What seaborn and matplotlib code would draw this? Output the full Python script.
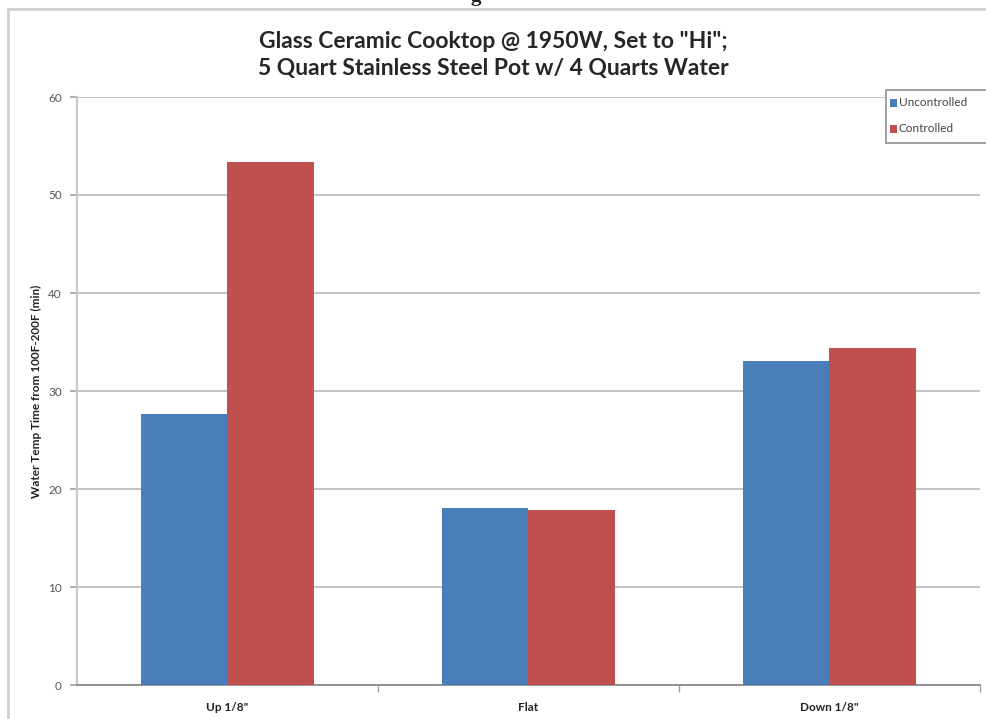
import matplotlib
matplotlib.use("Agg")
import matplotlib.pyplot as plt
from matplotlib.patches import Rectangle
import seaborn as sns
import pandas as pd

categories = ['Up 1/8"', "Flat", 'Down 1/8"']
uncontrolled = [27.7, 18.1, 33.1]
controlled = [53.4, 17.9, 34.4]
series_names = ["Uncontrolled", "Controlled"]
y_ticks = [0, 10, 20, 30, 40, 50, 60]

df = pd.DataFrame({
    "category": categories * 2,
    "series": [series_names[0]] * 3 + [series_names[1]] * 3,
    "minutes": uncontrolled + controlled,
})

sns.set_style("white")
plt.rcParams["font.family"] = ["Lato", "DejaVu Sans"]

W, H = 987, 719
fig = plt.figure(figsize=(W / 100, H / 100), dpi=100)
ax = fig.add_axes([77 / W, 1 - 685 / H, (980 - 77) / W, (685 - 97) / H])

palette = {"Uncontrolled": "#4A7EBB", "Controlled": "#C0504D"}
sns.barplot(data=df, x="category", y="minutes", hue="series",
            order=categories, hue_order=series_names, palette=palette,
            width=0.575, saturation=1, errorbar=None, ax=ax, legend=False,
            linewidth=0, zorder=3)

ax.set_xlim(-0.5, 2.5)
ax.set_ylim(0, 60)
ax.set_yticks(y_ticks)
ax.yaxis.grid(True, color="#bdbdbd", linewidth=1.3, zorder=0)
ax.set_axisbelow(True)

for s in ["top", "right"]:
    ax.spines[s].set_visible(False)
ax.spines["left"].set_color("#c8c8c8")
ax.spines["left"].set_linewidth(1.6)
ax.spines["bottom"].set_color("#8a8a8a")
ax.spines["bottom"].set_linewidth(1.3)

ax.tick_params(axis="y", left=True, length=5, width=1.2, color="#a0a0a0",
               labelsize=8.5, labelcolor="#555555", pad=6)
ax.tick_params(axis="x", bottom=False, labelsize=8.5, labelcolor="#222222", pad=9)
for lbl in ax.get_xticklabels():
    lbl.set_fontweight("bold")
ax.set_xticks([0.5, 1.5, 2.5], minor=True)
ax.tick_params(axis="x", which="minor", bottom=True, length=5, width=1,
               color="#a0a0a0")

ax.set_xlabel("")
ax.set_ylabel("Water Temp Time from 100F-200F (min)", fontsize=8.5,
              fontweight="bold", color="#222222", labelpad=4)

fig.text(493 / W, 1 - 41 / H, 'Glass Ceramic Cooktop @ 1950W, Set to "Hi";',
         ha="center", va="center", fontsize=16.5, fontweight="bold",
         color="#262626")
fig.text(493 / W, 1 - 68 / H, "5 Quart Stainless Steel Pot w/ 4 Quarts Water",
         ha="center", va="center", fontsize=16.5, fontweight="bold",
         color="#262626")

# chart frame
fig.patches.append(Rectangle((8 / W, -0.2), 1.2, 1 - 9 / H + 0.2,
                             transform=fig.transFigure, fill=False,
                             edgecolor="#d0d0d0", linewidth=2, zorder=0))

# heading above the frame, mostly cut off
fig.text(476 / W, 1 - 1 / H, "g", ha="center", va="baseline", fontsize=15,
         fontweight="bold", family="Liberation Serif", color="#222222")

# legend box
lx0, ly0, lx1, ly1 = 886, 90, 990, 143
fig.patches.append(Rectangle((lx0 / W, 1 - ly1 / H), (lx1 - lx0) / W,
                             (ly1 - ly0) / H, transform=fig.transFigure,
                             facecolor="white", edgecolor="#9a9a9a",
                             linewidth=1.3, zorder=5))
for name, yy in zip(series_names, [103, 129]):
    fig.patches.append(Rectangle((890 / W, 1 - (yy + 3.5) / H), 7 / W, 7 / H,
                                 transform=fig.transFigure,
                                 facecolor=palette[name], edgecolor="none",
                                 zorder=6))
    fig.text(899 / W, 1 - yy / H, name, ha="left", va="center", fontsize=8.5,
             color="#444444", zorder=7)

fig.savefig("out.png", dpi=100)
